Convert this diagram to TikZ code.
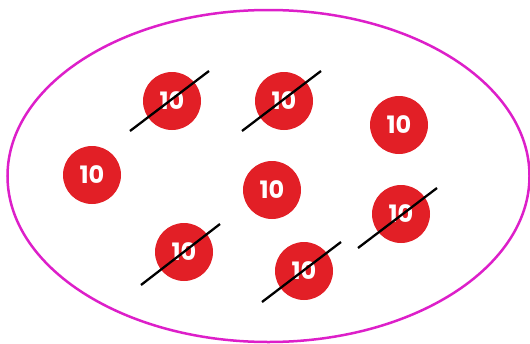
\documentclass[tikz,border=0pt]{standalone}
\usepackage{fontspec}
\newfontfamily\coinfont{Poppins}
\definecolor{coinred}{HTML}{E21F26}
\definecolor{ringmag}{HTML}{DD1FC9}
\begin{document}
\begin{tikzpicture}[x=1pt,y=-1pt,
  coin/.style={circle,fill=coinred,draw=none,minimum size=58pt,inner sep=0pt,text=white,font=\coinfont\bfseries\fontsize{24}{24}\selectfont},
  strike/.style={draw=black,line width=2.3pt}]
\useasboundingbox (0,0) rectangle (530,343);
\draw[ringmag,line width=2.5pt] (268.5,176) ellipse [x radius=261,y radius=166];
\node[coin] (c1) at (172,101) {10};
\node[coin] (c2) at (284,101) {10};
\node[coin] (c3) at (399,125) {10};
\node[coin] (c4) at (92,175) {10};
\node[coin] (c5) at (272,190) {10};
\node[coin] (c6) at (401,214) {10};
\node[coin] (c7) at (184,252) {10};
\node[coin] (c8) at (304,271) {10};
\coordinate (s1a) at (130,131); \coordinate (s1b) at (209,71);
\coordinate (s2a) at (242,131); \coordinate (s2b) at (321,71);
\coordinate (s6a) at (358,248); \coordinate (s6b) at (437,188);
\coordinate (s7a) at (141,285); \coordinate (s7b) at (220,224);
\coordinate (s8a) at (262,302); \coordinate (s8b) at (341,242);
\draw[strike] (s1a) -- (s1b);
\draw[strike] (s2a) -- (s2b);
\draw[strike] (s6a) -- (s6b);
\draw[strike] (s7a) -- (s7b);
\draw[strike] (s8a) -- (s8b);
\end{tikzpicture}
\end{document}
